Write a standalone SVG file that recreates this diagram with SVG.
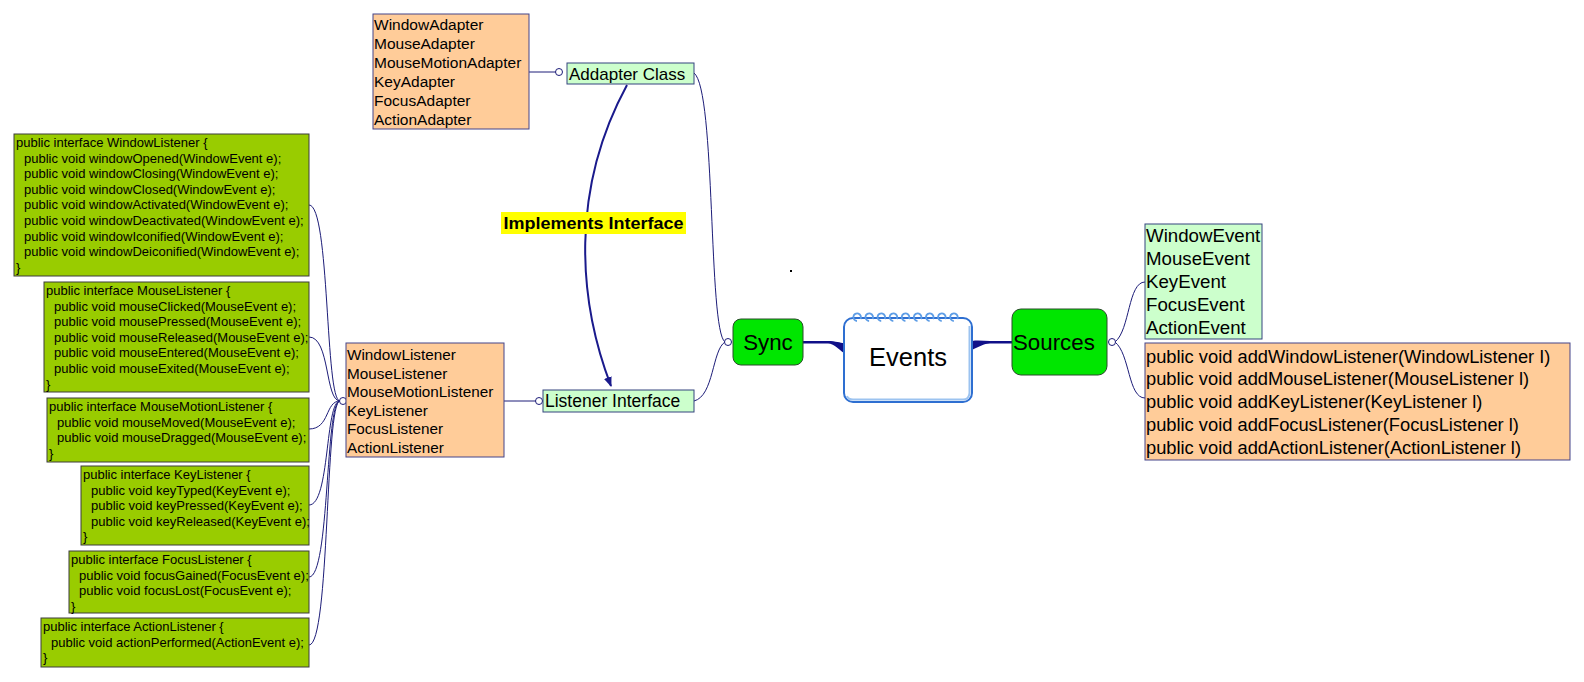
<svg xmlns="http://www.w3.org/2000/svg" width="1584" height="682" viewBox="0 0 1584 682">
<defs>
<style>
.code{font-family:"Liberation Sans",Arial,sans-serif;font-size:13px;fill:#000}
.lbl{font-family:"Liberation Sans",Arial,sans-serif;fill:#000}
.lime{fill:#99cc00;stroke:#3c3c3c;stroke-width:1}
.orange{fill:#ffcc99;stroke:#45458a;stroke-width:1}
.pale{fill:#ccffcc;stroke:#35457f;stroke-width:1}
.green{fill:#00e600;stroke:#2b4a2b;stroke-width:1}
.con{fill:none;stroke:#1c1c78;stroke-width:1}
.dot{fill:#fff;stroke:#1c1c78;stroke-width:1}
</style>
<marker id="arr" viewBox="0 0 10 10" refX="9" refY="5" markerWidth="5" markerHeight="5" orient="auto" markerUnits="strokeWidth">
<path d="M0,1 L10,5 L0,9 Z" fill="#1a1a8c"/>
</marker>
</defs>
<rect width="1584" height="682" fill="#fff"/>

<g id="connectors">
<path class="con" d="M340,401 C325,401 330,205 309,205"/>
<path class="con" d="M340,401 C325,401 330,337 309,337"/>
<path class="con" d="M340,401 C325,401 330,429 309,429"/>
<path class="con" d="M340,401 C325,401 330,505 309,505"/>
<path class="con" d="M340,401 C325,401 330,577 309,577"/>
<path class="con" d="M340,401 C325,401 330,645 309,645"/>
<line class="con" x1="504" y1="401" x2="536" y2="401"/>
<line class="con" x1="529" y1="72" x2="556" y2="72"/>
<path class="con" d="M725,342 C708,330 716,90 694,73"/>
<path class="con" d="M725,342 C712,350 714,396 694,401"/>
<path class="con" d="M1115,342 C1130,330 1128,282 1145,282"/>
<path class="con" d="M1115,342 C1130,354 1128,398 1145,398"/>
<path d="M803,341 L828,341 C836,341 840,343 844,343 L844,353 C838,349 834,343.5 828,343.5 L803,343.5 Z" fill="#101088"/>
<path d="M972,341 C978,340 984,341 990,341 L1012,341 L1012,343.5 L990,343.5 C984,343.5 978,347 972,350 Z" fill="#101088"/>
<path d="M627,85 C570,190 578,300 611,386" fill="none" stroke="#1a1a8c" stroke-width="2" marker-end="url(#arr)"/>
<circle class="dot" cx="343" cy="401" r="3.5"/>
<circle class="dot" cx="539" cy="401" r="3.5"/>
<circle class="dot" cx="559" cy="72" r="3.5"/>
<circle class="dot" cx="728" cy="342" r="3.5"/>
<circle class="dot" cx="1112" cy="342" r="3.5"/>
</g>

<g id="windowListener">
<rect class="lime" x="14" y="134" width="295" height="142"/>
<text class="code" x="16" y="147">public interface WindowListener {</text>
<text class="code" x="24" y="162.6">public void windowOpened(WindowEvent e);</text>
<text class="code" x="24" y="178.2">public void windowClosing(WindowEvent e);</text>
<text class="code" x="24" y="193.8">public void windowClosed(WindowEvent e);</text>
<text class="code" x="24" y="209.4">public void windowActivated(WindowEvent e);</text>
<text class="code" x="24" y="225">public void windowDeactivated(WindowEvent e);</text>
<text class="code" x="24" y="240.6">public void windowIconified(WindowEvent e);</text>
<text class="code" x="24" y="256.2">public void windowDeiconified(WindowEvent e);</text>
<text class="code" x="16" y="271.8">}</text>
</g>

<g id="mouseListener">
<rect class="lime" x="44" y="282" width="265" height="110"/>
<text class="code" x="46" y="295">public interface MouseListener {</text>
<text class="code" x="54" y="310.6">public void mouseClicked(MouseEvent e);</text>
<text class="code" x="54" y="326.2">public void mousePressed(MouseEvent e);</text>
<text class="code" x="54" y="341.8">public void mouseReleased(MouseEvent e);</text>
<text class="code" x="54" y="357.4">public void mouseEntered(MouseEvent e);</text>
<text class="code" x="54" y="373">public void mouseExited(MouseEvent e);</text>
<text class="code" x="46" y="388.6">}</text>
</g>

<g id="mouseMotionListener">
<rect class="lime" x="47" y="398" width="262" height="64"/>
<text class="code" x="49" y="411">public interface MouseMotionListener {</text>
<text class="code" x="57" y="426.6">public void mouseMoved(MouseEvent e);</text>
<text class="code" x="57" y="442.2">public void mouseDragged(MouseEvent e);</text>
<text class="code" x="49" y="457.8">}</text>
</g>

<g id="keyListener">
<rect class="lime" x="81" y="466" width="228" height="79"/>
<text class="code" x="83" y="479">public interface KeyListener {</text>
<text class="code" x="91" y="494.6">public void keyTyped(KeyEvent e);</text>
<text class="code" x="91" y="510.2">public void keyPressed(KeyEvent e);</text>
<text class="code" x="91" y="525.8">public void keyReleased(KeyEvent e);</text>
<text class="code" x="83" y="541.4">}</text>
</g>

<g id="focusListener">
<rect class="lime" x="69" y="551" width="240" height="62"/>
<text class="code" x="71" y="564">public interface FocusListener {</text>
<text class="code" x="79" y="579.6">public void focusGained(FocusEvent e);</text>
<text class="code" x="79" y="595.2">public void focusLost(FocusEvent e);</text>
<text class="code" x="71" y="610.8">}</text>
</g>

<g id="actionListener">
<rect class="lime" x="41" y="618" width="268" height="49"/>
<text class="code" x="43" y="631">public interface ActionListener {</text>
<text class="code" x="51" y="646.6">public void actionPerformed(ActionEvent e);</text>
<text class="code" x="43" y="662.2">}</text>
</g>

<g id="adapterList">
<rect class="orange" x="373" y="14" width="156" height="115"/>
<g class="lbl" font-size="15.5">
<text x="374" y="29.5">WindowAdapter</text>
<text x="374" y="48.5">MouseAdapter</text>
<text x="374" y="67.5">MouseMotionAdapter</text>
<text x="374" y="86.5">KeyAdapter</text>
<text x="374" y="105.5">FocusAdapter</text>
<text x="374" y="124.5">ActionAdapter</text>
</g>
</g>

<g id="listenerList">
<rect class="orange" x="346" y="343" width="158" height="114"/>
<g class="lbl" font-size="15.3">
<text x="347" y="360">WindowListener</text>
<text x="347" y="378.6">MouseListener</text>
<text x="347" y="397.2">MouseMotionListener</text>
<text x="347" y="415.8">KeyListener</text>
<text x="347" y="434.4">FocusListener</text>
<text x="347" y="453">ActionListener</text>
</g>
</g>

<g id="adapterClass">
<rect class="pale" x="567" y="63" width="127" height="21"/>
<text class="lbl" x="569" y="79.5" font-size="17">Addapter Class</text>
</g>

<g id="listenerInterface">
<rect class="pale" x="543" y="390" width="151" height="22"/>
<text class="lbl" x="545" y="407" font-size="17.5">Listener Interface</text>
</g>

<g id="implementsLabel">
<rect x="501" y="212" width="185" height="22" fill="#ffff00"/>
<text class="lbl" x="593.5" y="229" font-size="16.5" font-weight="bold" text-anchor="middle" textLength="180" lengthAdjust="spacingAndGlyphs">Implements Interface</text>
</g>

<g id="sync">
<rect class="green" x="733" y="319" width="70" height="46" rx="8"/>
<text class="lbl" x="768" y="350" font-size="22.3" text-anchor="middle">Sync</text>
</g>

<g id="events">
<rect x="844" y="318" width="128" height="84" rx="9" fill="#fff" stroke="#2e6fd1" stroke-width="2"/>
<path d="M847,396 Q848,399.5 853,399.5 L963,399.5 Q969,399.5 969.5,393 L969.5,326" fill="none" stroke="#9cc3f0" stroke-width="2"/>
<g fill="none" stroke="#5d9de6" stroke-width="1.8">
<path d="M857,321 a3.8,3.8 0 1 1 3.5,-2"/>
<path d="M869.1,321 a3.8,3.8 0 1 1 3.5,-2"/>
<path d="M881.2,321 a3.8,3.8 0 1 1 3.5,-2"/>
<path d="M893.3,321 a3.8,3.8 0 1 1 3.5,-2"/>
<path d="M905.4,321 a3.8,3.8 0 1 1 3.5,-2"/>
<path d="M917.5,321 a3.8,3.8 0 1 1 3.5,-2"/>
<path d="M929.6,321 a3.8,3.8 0 1 1 3.5,-2"/>
<path d="M941.7,321 a3.8,3.8 0 1 1 3.5,-2"/>
<path d="M953.8,321 a3.8,3.8 0 1 1 3.5,-2"/>
</g>
<text class="lbl" x="908" y="366" font-size="25.5" text-anchor="middle">Events</text>
</g>

<g id="sources">
<rect class="green" x="1012" y="309" width="95" height="66" rx="9"/>
<text class="lbl" x="1013" y="350" font-size="22.3">Sources</text>
</g>

<g id="eventList">
<rect class="pale" x="1145" y="224" width="117" height="115"/>
<g class="lbl" font-size="18.7">
<text x="1146" y="241.5">WindowEvent</text>
<text x="1146" y="264.7">MouseEvent</text>
<text x="1146" y="287.9">KeyEvent</text>
<text x="1146" y="311.1">FocusEvent</text>
<text x="1146" y="334.3">ActionEvent</text>
</g>
</g>

<g id="addListenerList">
<rect class="orange" x="1145" y="343" width="425" height="117"/>
<g class="lbl" font-size="18.3">
<text x="1146" y="362.5">public void addWindowListener(WindowListener I)</text>
<text x="1146" y="385.4">public void addMouseListener(MouseListener l)</text>
<text x="1146" y="408.3">public void addKeyListener(KeyListener l)</text>
<text x="1146" y="431.2">public void addFocusListener(FocusListener l)</text>
<text x="1146" y="454.1">public void addActionListener(ActionListener l)</text>
</g>
</g>

<rect x="790" y="270" width="2" height="2" fill="#000"/>
</svg>
